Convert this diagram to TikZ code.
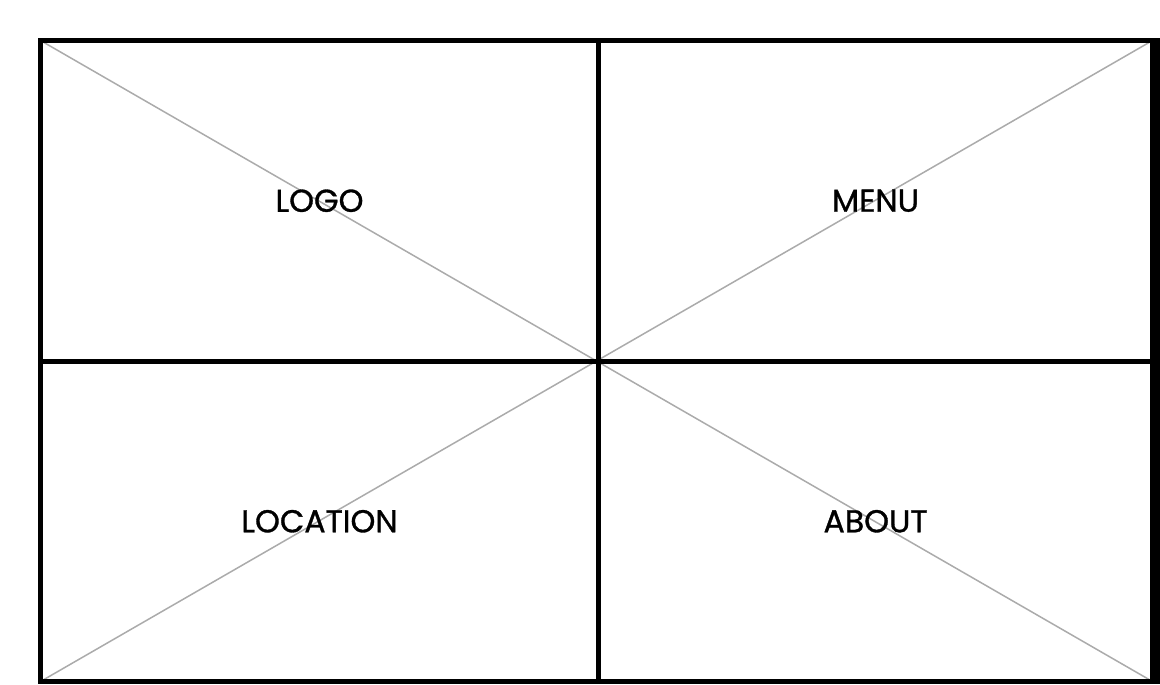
\documentclass[tikz,border=0pt]{standalone}
\usepackage{fontspec}
\setmainfont{Poppins}[FakeBold=1]
\usepackage{tikz}
\usetikzlibrary{backgrounds}

\begin{document}
\begin{tikzpicture}[x=0.02cm, y=-0.02cm,
		cell/.style={draw=black, line width=0.1cm, minimum height=320.5*0.02cm, inner sep=0pt, outer sep=0pt, font=\fontsize{18}{20}\selectfont},
		left cell/.style={cell, minimum width=558*0.02cm},
		right cell/.style={cell, minimum width=554*0.02cm},
		cross/.style={draw=black!33, line width=0.03cm}]
			\useasboundingbox (0,0) rectangle (1160,684);
			\node[left cell] (logo) at (319.5,200.75) {LOGO};
			\node[right cell] (menu) at (875.5,200.75) {MENU};
			\node[left cell] (location) at (319.5,521.25) {LOCATION};
			\node[right cell] (about) at (875.5,521.25) {ABOUT};
			% heavier right border
			\fill[black] ([yshift=0.05cm]menu.north east) ++(-2.5,0) rectangle (1160,684);
			\begin{scope}[on background layer]
				\draw[cross] (logo.north west) -- (about.south east);
				\draw[cross] (location.south west) -- (menu.north east);
			\end{scope}
		\end{tikzpicture}
\end{document}
